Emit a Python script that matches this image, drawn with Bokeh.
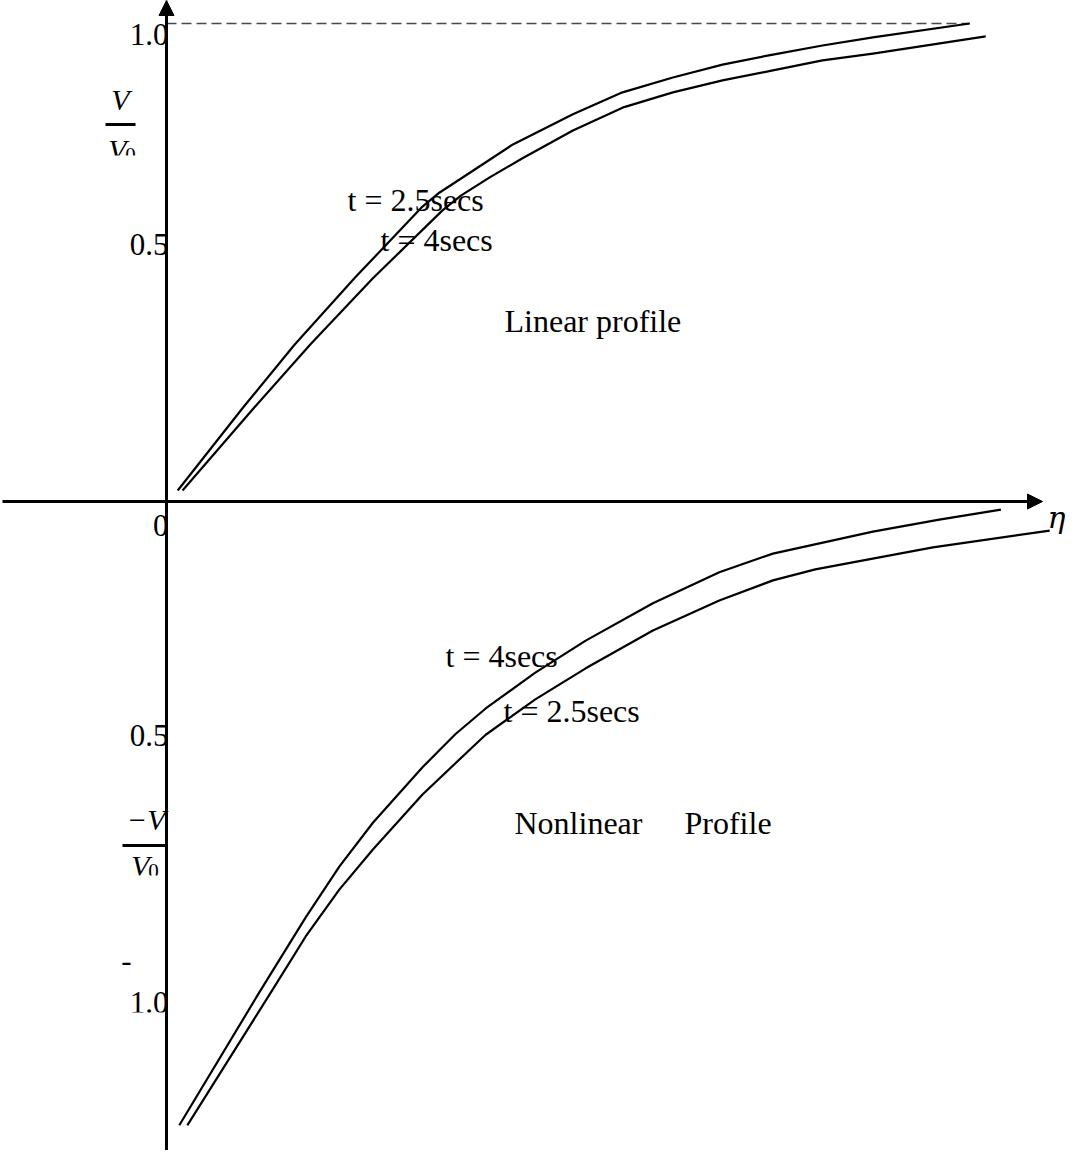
from bokeh.plotting import figure
from bokeh.models import Range1d, Arrow, NormalHead, ColumnDataSource
from bokeh.core.properties import value
from bokeh.embed import file_html
from bokeh.resources import INLINE

# ---------------- data (eta, V/V0) ----------------
# Linear profile (upper half)
eta_lin_t25 = [0.14, 0.95, 1.60, 2.36, 3.20, 3.41, 3.83, 4.33, 5.08, 5.70, 6.33, 6.95, 7.58, 8.20, 8.83, 10.04]
v_lin_t25 = [0.023, 0.195, 0.328, 0.469, 0.617, 0.646, 0.692, 0.747, 0.810, 0.856, 0.887, 0.914,
             0.935, 0.954, 0.971, 1.0]

eta_lin_t4 = [0.20, 1.10, 1.80, 2.58, 3.45, 3.68, 4.04, 4.45, 5.08, 5.70, 6.33, 6.95, 7.58, 8.20, 8.83, 10.24]
v_lin_t4 = [0.023, 0.197, 0.329, 0.467, 0.609, 0.640, 0.678, 0.718, 0.776, 0.824, 0.856, 0.881,
            0.902, 0.923, 0.937, 0.973]

# Nonlinear profile (lower half, -V/V0 drawn downward)
eta_nl_t4 = [0.16, 1.16, 1.74, 2.16, 2.58, 3.20, 3.61, 3.99, 4.61, 5.24, 6.08, 6.91, 7.58, 8.83, 9.66, 10.43]
v_nl_t4 = [-1.305, -1.027, -0.870, -0.764, -0.672, -0.556, -0.487, -0.433, -0.358, -0.291,
           -0.213, -0.148, -0.109, -0.063, -0.038, -0.017]

eta_nl_t25 = [0.26, 1.35, 1.74, 2.16, 2.58, 3.20, 3.83, 3.99, 4.61, 5.24, 6.08, 6.91, 7.58, 8.11, 9.58, 11.04]
v_nl_t25 = [-1.305, -1.015, -0.910, -0.812, -0.728, -0.613, -0.513, -0.488, -0.414, -0.349,
            -0.270, -0.207, -0.165, -0.142, -0.096, -0.061]

asymptote_v = 1.0
tick_vals = [1.0, 0.5, -0.5, -1.0]
tick_text = ["1.0", "0.5", "0.5", "1.0"]

# ---------------- layout helpers (reference pixel -> data) ----------------
X0, KX = 174.0, 80.0      # pixel x of eta = 0, pixels per eta unit
Y0, KY = 509.0, 478.0     # pixel y of V = 0, pixels per V/V0 unit


def px(x):
    return (x - X0) / KX


def py(y):
    return (Y0 - y) / KY


W, H = 1071, 1150
p = figure(width=W, height=H, output_backend="svg", toolbar_location=None,
           x_range=Range1d(px(8), px(8 + W)), y_range=Range1d(py(8 + H), py(8)),
           min_border=0)
p.xaxis.visible = False
p.yaxis.visible = False
p.grid.visible = False
p.outline_line_color = None
p.background_fill_color = "white"
p.border_fill_color = "white"

SERIF = value("Liberation Serif")
FS = "32px"

# dashed asymptote at V/V0 = 1
p.line([0, eta_lin_t25[-1]], [asymptote_v, asymptote_v], line_color="#4a4a4a",
       line_width=1.5, line_dash="10 5")

# curves
for xs, ys in [(eta_lin_t25, v_lin_t25), (eta_lin_t4, v_lin_t4),
               (eta_nl_t4, v_nl_t4), (eta_nl_t25, v_nl_t25)]:
    p.line(xs, ys, line_color="black", line_width=2.2, line_join="round")

# tick labels
tick_src = ColumnDataSource(dict(x=[px(176)] * 4, y=tick_vals, t=tick_text,
                                 off=[11, -18, -5, 23]))
p.text(x="x", y="y", text="t", y_offset="off", source=tick_src, text_align="right",
       text_baseline="middle", text_font=SERIF, text_font_size="31px", text_color="black")
p.text(x=[px(176)], y=[0], text=["0"], y_offset=24, text_align="right",
       text_baseline="middle", text_font=SERIF, text_font_size="31px", text_color="black")
p.text(x=[px(134)], y=[py(968)], text=["-"], text_align="center",
       text_baseline="middle", text_font=SERIF, text_font_size="31px", text_color="black")

# curve annotations
ann = [("t = 2.5secs", 355, 207), ("t = 4secs", 388, 247), ("Linear profile", 512, 328),
       ("t = 4secs", 453, 663), ("t = 2.5secs", 511, 718),
       ("Nonlinear", 522, 830), ("Profile", 692, 830)]
for t, x, y in ann:
    p.text(x=[px(x)], y=[py(y)], text=[t], text_align="left", text_baseline="middle",
           text_font=SERIF, text_font_size=FS, text_color="black")

# axis titles (fractions)
MATH = value("Liberation Serif")
p.text(x=[px(128)], y=[py(107)], text=["V"], text_align="center", text_baseline="middle",
       text_font=MATH, text_font_style="italic", text_font_size="30px")
p.segment(x0=[px(113)], y0=[py(132)], x1=[px(143)], y1=[py(132)], line_color="black", line_width=3)
p.text(x=[px(125)], y=[py(157)], text=["V"], text_align="center", text_baseline="middle",
       text_font=MATH, text_font_style="italic", text_font_size="30px")
p.text(x=[px(138)], y=[py(162)], text=["0"], text_align="center", text_baseline="middle",
       text_font=MATH, text_font_size="21px")

p.text(x=[px(173)], y=[py(827)], text=["\u2212V"], text_align="right", text_baseline="middle",
       text_font=MATH, text_font_style="italic", text_font_size="30px")
p.segment(x0=[px(130)], y0=[py(853)], x1=[px(173)], y1=[py(853)], line_color="black", line_width=3)
p.text(x=[px(148)], y=[py(873)], text=["V"], text_align="center", text_baseline="middle",
       text_font=MATH, text_font_style="italic", text_font_size="30px")
p.text(x=[px(161)], y=[py(878)], text=["0"], text_align="center", text_baseline="middle",
       text_font=MATH, text_font_size="21px")

# eta label, kept inside the frame
p.text(x=[px(1073)], y=[py(525)], text=["\u03b7"], text_align="right", text_baseline="middle",
       text_font=value("DejaVu Serif"), text_font_style="italic", text_font_size="30px")

# clipped bottoms of some texts (as in the original figure)
p.quad(left=[px(108), px(128), px(125)], right=[px(150), px(172), px(172)],
       top=[py(163), py(883), py(1020)], bottom=[py(178), py(898), py(1034)],
       fill_color="white", line_color=None, level="overlay")

# coordinate axes with arrows
p.add_layout(Arrow(end=NormalHead(size=15, fill_color="black", line_color="black"),
                   x_start=0, y_start=py(1170), x_end=0, y_end=py(8),
                   line_color="black", line_width=3))
p.add_layout(Arrow(end=NormalHead(size=15, fill_color="black", line_color="black"),
                   x_start=px(10), y_start=0, x_end=px(1050), y_end=0,
                   line_color="black", line_width=3))

open("out.html", "w").write(file_html(p, INLINE))
